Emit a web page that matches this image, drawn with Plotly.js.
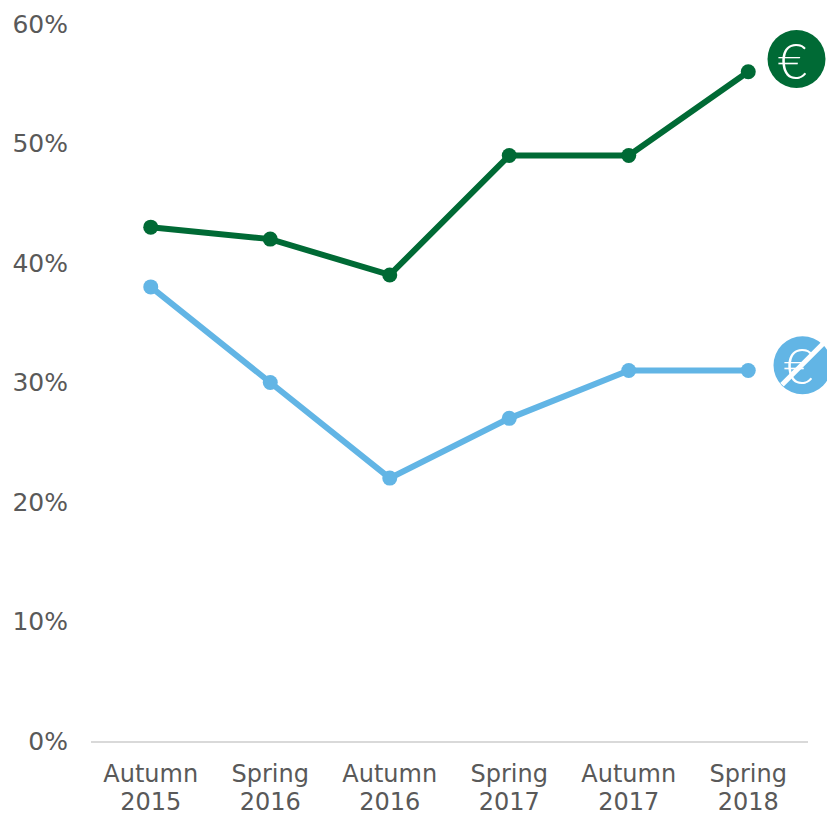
<!DOCTYPE html>
<html><head><meta charset="utf-8">
<script src="https://cdn.plot.ly/plotly-3.0.1.min.js"></script>
<style>html,body{margin:0;padding:0;background:#fff;overflow:hidden}</style>
</head><body><div id="chart" style="width:827px;height:814px"></div>
<script>
const categories = ["Autumn<br>2015","Spring<br>2016","Autumn<br>2016","Spring<br>2017","Autumn<br>2017","Spring<br>2018"];
const euroArea = [43,42,39,49,49,56];
const nonEuroArea = [38,30,22,27,31,31];
const yTicks = [0,10,20,30,40,50,60];
const green = "#006A35", blue = "#62B5E5";
const W=827,H=814,L=91,R=19,T=24,B=72.5;
const px = x => (x-L)/(W-L-R), py = y => 1-(y-T)/(H-T-B);
const font = {family:"DejaVu Sans, Verdana, sans-serif", size:24, color:"#595959"};
const trace = (y,c,name) => ({x:categories,y,name,type:"scatter",mode:"lines+markers",
  line:{color:c,width:6},marker:{color:c,size:15},cliponaxis:false,hoverinfo:"skip"});
const circle = (cx,cy,r,c) => ({type:"circle",xref:"paper",yref:"paper",x0:px(cx-r),x1:px(cx+r),y0:py(cy+r),y1:py(cy-r),fillcolor:c,line:{width:0},layer:"above"});
const euro = (x,y) => ({xref:"paper",yref:"paper",x:px(x),y:py(y),text:"€",showarrow:false,xanchor:"center",yanchor:"middle",
  font:{family:"Lato, Liberation Sans, sans-serif",size:50,weight:300,color:"#fff"}});
Plotly.newPlot("chart",[trace(euroArea,green,"Euro area"),trace(nonEuroArea,blue,"Non-euro area")],{
  width:W,height:H,margin:{l:L,r:R,t:T,b:B,pad:0},paper_bgcolor:"#fff",plot_bgcolor:"#fff",showlegend:false,font,
  xaxis:{type:"category",showgrid:false,zeroline:false,showline:true,linecolor:"#d9d9d9",linewidth:2,ticks:"",tickfont:font,range:[-0.5,5.5],ticklabelstandoff:10,automargin:false},
  yaxis:{range:[0,60],tickvals:yTicks,ticktext:yTicks.map(v=>v+"%"),showgrid:false,zeroline:false,showline:false,ticks:"",tickfont:{...font,size:25},ticklabelstandoff:22,automargin:false},
  shapes:[circle(796.5,59,29,green),circle(802.5,365.5,29,blue),
    {type:"line",xref:"paper",yref:"paper",x0:px(782),y0:py(385),x1:px(830),y1:py(337),line:{color:"#fff",width:5},layer:"above"}],
  annotations:[euro(792,60),euro(798.5,365.5)]
},{displayModeBar:false,staticPlot:true}).then(gd=>{
  gd.querySelectorAll(".xtick text tspan.line").forEach(t=>{ if(t.getAttribute("dy") && parseFloat(t.getAttribute("dy"))>0) t.setAttribute("dy","1.18em"); });
});
</script></body></html>
